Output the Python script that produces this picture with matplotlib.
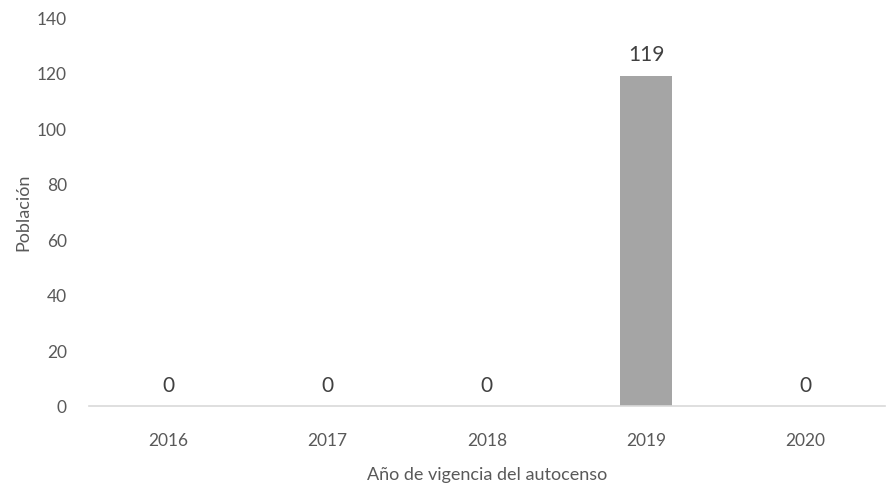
import matplotlib.pyplot as plt

plt.rcParams['font.family'] = ['Lato', 'DejaVu Sans']

years = ['2016', '2017', '2018', '2019', '2020']
poblacion = [0, 0, 0, 119, 0]

fig = plt.figure(figsize=(8.86, 4.89), dpi=100)
ax = fig.add_axes([0.1005, 0.1677, 0.898, 0.795])

x = range(len(years))
bars = ax.bar(x, poblacion, width=0.33, color='#A5A5A5')
for xi, v in zip(x, poblacion):
    ax.text(xi, v + 4, str(v), ha='center', va='bottom', fontsize=15, color='#404040')

ax.set_xlim(-0.5, len(years) - 0.5)
ax.set_ylim(0, 140)
ax.set_yticks(range(0, 141, 20))
ax.set_xticks(list(x))
ax.set_xticklabels(years)

for s in ['top', 'right', 'left']:
    ax.spines[s].set_visible(False)
ax.spines['bottom'].set_color('#D9D9D9')
ax.spines['bottom'].set_linewidth(1.2)
ax.tick_params(axis='both', length=0, labelsize=12.5, colors='#595959')
ax.tick_params(axis='y', pad=16)
ax.tick_params(axis='x', pad=19)

ax.set_xlabel('Año de vigencia del autocenso', fontsize=13, color='#595959', labelpad=13)
ax.set_ylabel('Población', fontsize=13, color='#595959', labelpad=4)

fig.savefig('out.png', dpi=100)
